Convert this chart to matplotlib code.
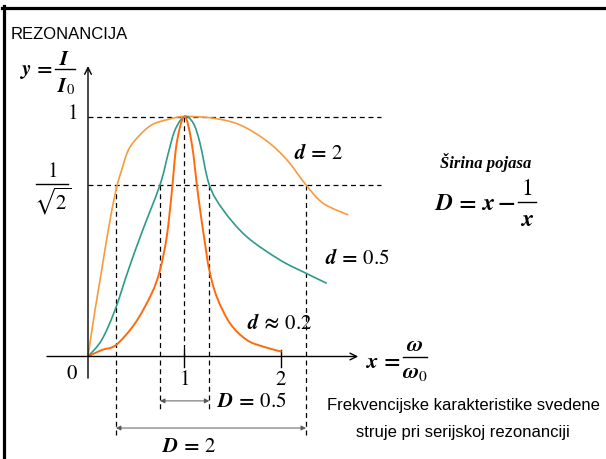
import numpy as np
import matplotlib.pyplot as plt
from matplotlib.lines import Line2D
from matplotlib.path import Path
from matplotlib.patches import PathPatch
from matplotlib.transforms import Affine2D

# normalised current y = I/I0 against x = w/w0, one curve per damping d
x_d2 = [0.0, 0.073, 0.142, 0.210, 0.290, 0.349, 0.418, 0.521, 0.660, 0.832, 1.0,
        1.298, 1.575, 1.852, 2.062, 2.259, 2.438, 2.697]
y_d2 = [0.0, 0.194, 0.360, 0.527, 0.694, 0.777, 0.860, 0.916, 0.965, 0.988, 1.0,
        0.993, 0.965, 0.898, 0.819, 0.715, 0.638, 0.590]

x_d05 = [0.0, 0.142, 0.280, 0.418, 0.556, 0.746, 0.832, 0.902, 1.0,
         1.091, 1.161, 1.257, 1.402, 1.645, 1.990, 2.259, 2.474]
y_d05 = [0.0, 0.069, 0.194, 0.360, 0.515, 0.715, 0.847, 0.944, 1.0,
         0.972, 0.888, 0.715, 0.610, 0.499, 0.402, 0.347, 0.305]

x_d02 = [0.0, 0.142, 0.290, 0.487, 0.660, 0.746, 0.816, 0.867, 0.919, 1.0,
         1.075, 1.143, 1.212, 1.257, 1.334, 1.472, 1.645, 1.817, 2.007]
y_d02 = [0.0, 0.027, 0.048, 0.138, 0.263, 0.360, 0.499, 0.680, 0.888, 1.0,
         0.888, 0.666, 0.472, 0.360, 0.249, 0.138, 0.069, 0.041, 0.020]

# half-power crossings (band edges) of the d=2 and d=0.5 curves
band_d2 = [0.290, 2.259]
band_d05 = [0.746, 1.257]
y_half = 0.715
x_ticks = [1, 2]

C_D2 = "#F99B3A"
C_D05 = "#2E9A8A"
C_D02 = "#FF6A0A"

plt.rcParams["mathtext.fontset"] = "stix"


def smooth_curve(ax, xs, ys, **kw):
    # Catmull-Rom through the points, drawn as cubic bezier segments
    p = np.column_stack([xs, ys])
    p = np.vstack([p[0], p, p[-1]])
    verts = [p[1]]
    codes = [Path.MOVETO]
    for i in range(1, len(p) - 2):
        c1 = p[i] + (p[i + 1] - p[i - 1]) / 6
        c2 = p[i + 1] - (p[i + 2] - p[i]) / 6
        verts += [c1, c2, p[i + 1]]
        codes += [Path.CURVE4] * 3
    ax.add_patch(PathPatch(Path(verts, codes), fill=False, **kw))


fig = plt.figure(figsize=(6.06, 4.59), dpi=100)
ax = fig.add_axes([0, 0, 1, 1])
ax.set_xlim(-88 / 96.5, 518 / 96.5)
ax.set_ylim(-102.5 / 240, 356.5 / 240)
ax.axis("off")

# pixel coordinates, origin top-left, for placing the formulas
pix = Affine2D().scale(1 / 606, -1 / 459).translate(0, 1) + fig.transFigure


def ptext(x, y, s, size, ha="center", **kw):
    fig.text(x, y, s, fontsize=size, ha=ha, va="baseline", transform=pix, **kw)


def pbar(x0, x1, y, lw=1.0):
    fig.add_artist(Line2D([x0, x1], [y, y], color="black", lw=lw, transform=pix))


# frame (left and top edges only)
fig.add_artist(Line2D([3.5, 3.5], [459, 6], color="black", lw=2.3, transform=pix))
fig.add_artist(Line2D([2, 606], [7.5, 7.5], color="black", lw=2.3, transform=pix))

# curves
smooth_curve(ax, x_d2, y_d2, edgecolor=C_D2, lw=1.2, zorder=3)
smooth_curve(ax, x_d05, y_d05, edgecolor=C_D05, lw=1.2, zorder=3)
smooth_curve(ax, x_d02, y_d02, edgecolor=C_D02, lw=1.4, zorder=3)

# axes with arrows
ax.annotate("", xy=(2.80, 0), xytext=(-0.425, 0),
            arrowprops=dict(arrowstyle="->", lw=1.0, color="black", shrinkA=0, shrinkB=0,
                            mutation_scale=12))
ax.annotate("", xy=(0, 1.21), xytext=(0, -0.09),
            arrowprops=dict(arrowstyle="->", lw=1.0, color="black", shrinkA=0, shrinkB=0,
                            mutation_scale=12))
for t in x_ticks:
    ax.plot([t, t], [0.027, -0.045], color="black", lw=1.0)

# dashed guides
dash = dict(color="black", lw=0.9, ls=(0, (4, 3)))
ax.plot([0, 3.04], [1, 1], **dash)
ax.plot([0, 3.04], [y_half, y_half], **dash)
ax.plot([1, 1], [1, 0], **dash)
for xb in band_d2:
    ax.plot([xb, xb], [y_half, -0.340], **dash)
for xb in band_d05:
    ax.plot([xb, xb], [y_half, -0.223], **dash)

# bandwidth arrows
arr = dict(arrowstyle="<|-|>", lw=0.7, color="0.35", shrinkA=0, shrinkB=0, mutation_scale=7)
ax.annotate("", xy=(band_d05[1], -0.185), xytext=(band_d05[0], -0.185), arrowprops=arr)
ax.annotate("", xy=(band_d2[1], -0.298), xytext=(band_d2[0], -0.298), arrowprops=arr)

# tick labels
num = dict(fontsize=15, ha="center", va="center")
ax.text(-0.166, -0.068, "$0$", **num)
for t in x_ticks:
    ax.text(t, -0.092, "$%d$" % t, **num)
ax.text(-0.166, 1.015, "$1$", **num)

# 1/sqrt(2)
ptext(52, 177, "$1$", 15)
pbar(36, 68, 184)
ptext(53, 210, r"$\sqrt{2}$", 15)

# y = I / I0
ptext(53, 75, r"$\mathbfit{y}\,\mathbf{=}$", 15, ha="right")
ptext(65, 65, r"$\mathbfit{I}$", 15)
pbar(55, 75, 69)
ptext(66, 92, r"$\mathbfit{I}_0$", 15)

# x = w / w0
ptext(400, 368, r"$\mathbfit{x}\,\mathbf{=}$", 16, ha="right")
ptext(414.5, 351, r"$\mathbfit{\omega}$", 16)
pbar(403, 427, 357)
ptext(415, 378, r"$\mathbfit{\omega}_0$", 16)

# curve labels
lab = dict(fontsize=15, ha="center", va="center")
ax.text(2.394, 0.848, r"$\mathbfit{d}\,\mathbf{=}\,2$", **lab)
ax.text(2.788, 0.410, r"$\mathbfit{d}\,\mathbf{=}\,0.5$", **lab)
ax.text(1.980, 0.140, r"$\mathbfit{d}\,\mathbf{\approx}\,0.2$", **lab)
ax.text(1.699, -0.185, r"$\mathbfit{D}\,\mathbf{=}\,0.5$", **lab)
ax.text(1.047, -0.373, r"$\mathbfit{D}\,\mathbf{=}\,2$", **lab)

# bandwidth formula D = x - 1/x
ptext(486, 168, "Širina pojasa", 12, family="Liberation Serif", style="italic", weight="bold")
ptext(515, 210, r"$\mathbfit{D}\,\mathbf{=}\,\mathbfit{x}\,\mathbf{-}$", 17, ha="right")
ptext(527, 195, "$1$", 17)
pbar(518, 536, 202)
ptext(527, 226, r"$\mathbfit{x}$", 17)

# captions
ptext(11, 39, "REZONANCIJA", 12, ha="left", family="Liberation Sans")
ptext(463, 410, "Frekvencijske karakteristike svedene", 12, family="Liberation Sans")
ptext(463, 437, "struje pri serijskoj rezonanciji", 12, family="Liberation Sans")

fig.savefig("out.png", dpi=100)
